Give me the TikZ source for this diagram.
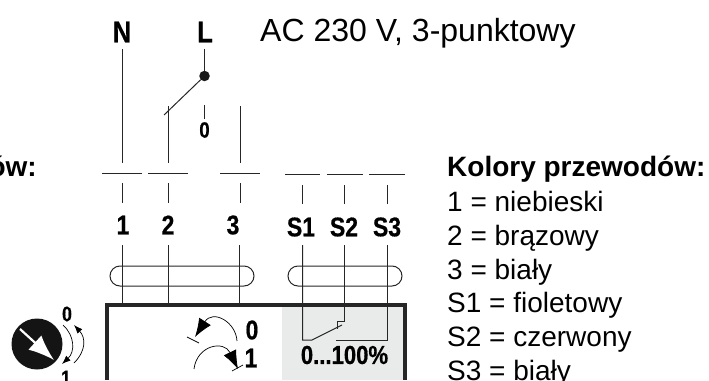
\documentclass[tikz,border=0pt]{standalone}
\usepackage{fontspec}
\usepackage{tikz}
\usetikzlibrary{arrows.meta}
\setmainfont{Liberation Sans}
\newfontfamily\narrowbold[FakeStretch=0.85,FakeBold=0.6]{Liberation Sans Bold}
\definecolor{panelgray}{HTML}{E9EAEA}
\definecolor{wireblack}{HTML}{262626}
\tikzset{
    wire/.style={draw=wireblack, line width=1pt},
    pin/.style={inner sep=0pt, font=\narrowbold\fontsize{27}{27}\selectfont},
    legend/.style={anchor=base west, inner sep=0pt, font=\fontsize{28}{28}\selectfont},
    cable/.style={draw=wireblack, line width=1pt, rounded corners=10pt, minimum height=20pt, inner sep=0pt},
}

\begin{document}
\begin{tikzpicture}[x=1pt, y=-1pt]
    \useasboundingbox (0, 0) rectangle (709, 380);
    \clip (0, 0) rectangle (709, 380);

    % housing
    \fill[panelgray] (282, 305) rectangle (405, 380);
    \node[cable, minimum width=144pt] (cableA) at (182, 276) {};
    \node[cable, minimum width=114pt] (cableB) at (345, 276) {};
    \draw[line width=3.8pt, wireblack] (107, 380) -- (107, 305) -- (405, 305) -- (405, 380);

    % supply
    \node[pin, font=\narrowbold\fontsize{30}{30}\selectfont] (n) at (122, 32) {N};
    \node[pin, font=\narrowbold\fontsize{30}{30}\selectfont] (l) at (205, 32) {L};
    \node[anchor=base west, inner sep=0pt, font=\fontsize{32}{32}\selectfont] (title) at (260, 41) {AC 230 V, 3-punktowy};
    \node[circle, inner sep=0pt, minimum size=10.5pt, fill=black!90] (pivot) at (204.5, 76) {};
    \node[pin, font=\narrowbold\fontsize{22}{22}\selectfont] (zero) at (204.5, 130) {0};

    \coordinate (nB) at (122, 163);
    \coordinate (twoT) at (168, 106);
    \coordinate (twoB) at (168, 163);
    \coordinate (threeT) at (240, 106);
    \coordinate (threeB) at (240, 163);
    \coordinate (armE) at (164, 115);
    \coordinate (zeroT) at (204.5, 105);
    \draw[wire] (122, 49) -- (nB);
    \draw[wire] (204.5, 49) -- (pivot);
    \draw[wire] (pivot) -- (armE);
    \draw[wire] (twoT) -- (twoB);
    \draw[wire] (threeT) -- (threeB);
    \draw[wire] (zeroT) -- (204.5, 119);

    % break bars
    \draw[wire] (102, 173.5) -- (142, 173.5);
    \draw[wire] (148, 173.5) -- (188, 173.5);
    \draw[wire] (220, 173.5) -- (260, 173.5);
    \draw[wire] (285, 174.5) -- (320, 174.5);
    \draw[wire] (327, 174.5) -- (363, 174.5);
    \draw[wire] (369, 174.5) -- (405, 174.5);

    % terminals
    \node[pin] (t1) at (123, 225) {1};
    \node[pin] (t2) at (168, 225) {2};
    \node[pin] (t3) at (233, 225) {3};
    \node[pin] (s1) at (301, 227) {S1};
    \node[pin] (s2) at (344, 227) {S2};
    \node[pin] (s3) at (387, 227) {S3};

    \draw[wire] (122, 183) -- (122, 203);
    \draw[wire] (168, 183) -- (168, 203);
    \draw[wire] (240, 183) -- (240, 203);
    \draw[wire] (302, 185) -- (302, 204);
    \draw[wire] (344, 185) -- (344, 204);
    \draw[wire] (387, 185) -- (387, 204);

    \draw[wire] (122, 245) -- (122, 304);
    \draw[wire] (168, 245) -- (168, 304);
    \draw[wire] (239.5, 245) -- (239.5, 304);

    % feedback switch
    \coordinate (contact) at (312, 340);
    \draw[wire] (302.5, 245) -- (302.5, 340) -- (contact) -- (342, 325);
    \draw[wire] (344.5, 245) -- (344.5, 321) -- (337, 321) -- (337, 329);
    \draw[wire] (387.5, 245) -- (387.5, 340) -- (336, 340);
    \node[pin, font=\narrowbold\fontsize{26}{26}\selectfont] (range) at (344.5, 355) {0...100\%};

    % direction arcs
    \node[pin] (dirZero) at (252, 330) {0};
    \node[pin] (dirOne) at (251, 358) {1};
    \draw[line width=0.7pt, -{Latex[scale=3]}] (237, 341) .. controls (236, 322) and (213, 309) .. (195, 337);
    \draw[line width=0.7pt] (187, 337) -- (199, 343);
    \draw[line width=0.7pt, -{Latex[scale=3]}] (194, 369) .. controls (197, 345) and (224, 340) .. (238, 369);
    \draw[line width=0.7pt] (232, 371) -- (243, 365);

    % knob
    \node[circle, inner sep=0pt, minimum size=51pt, fill=black!92] (knob) at (37, 344) {};
    \coordinate (pointerA) at (20, 329);
    \coordinate (pointerB) at (54, 360);
    \draw[white, line width=2.2pt, -{Latex[scale=2]}] (pointerA) -- (pointerB);
    \node[pin, font=\narrowbold\fontsize{21}{21}\selectfont] (knobZero) at (67, 314) {0};
    \node[pin, font=\narrowbold\fontsize{21}{21}\selectfont] (knobOne) at (66, 378) {1};
    \draw[line width=0.7pt, -{Latex[scale=1.4]}] (63, 325) .. controls (75, 336) and (75, 352) .. (62, 364);
    \draw[line width=0.7pt, -{Latex[scale=1.4]}] (74, 363) .. controls (86, 351) and (86, 338) .. (74, 325);

    % colours
    \node[anchor=base east, inner sep=0pt, font=\bfseries\fontsize{28}{28}\selectfont] (cutoff) at (37, 176) {ów:};
    \node[anchor=base west, inner sep=0pt, font=\bfseries\fontsize{28}{28}\selectfont] (heading) at (447, 176) {Kolory przewodów:};
    \node[legend] (c1) at (447, 211) {1 = niebieski};
    \node[legend] (c2) at (447, 245) {2 = brązowy};
    \node[legend] (c3) at (447, 279) {3 = biały};
    \node[legend] (c4) at (447, 312) {S1 = fioletowy};
    \node[legend] (c5) at (447, 346) {S2 = czerwony};
    \node[legend] (c6) at (447, 380) {S3 = biały};
\end{tikzpicture}
\end{document}
